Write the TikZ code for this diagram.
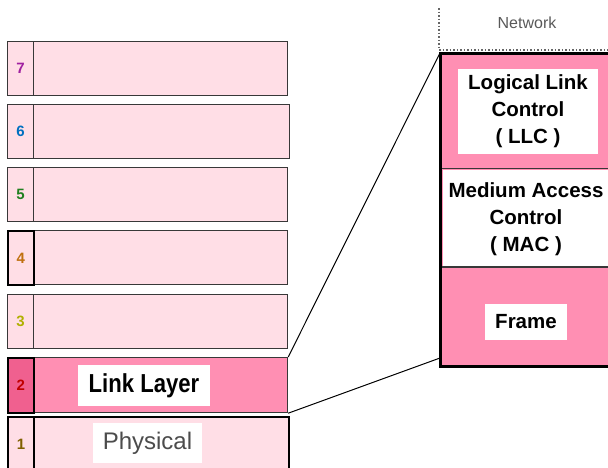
\documentclass[tikz,border=0pt]{standalone}
\usepackage{fontspec}
\setmainfont{Liberation Sans}
\usetikzlibrary{positioning}
\definecolor{lpink}{HTML}{FFDEE6}
\definecolor{mpink}{HTML}{FF8FB3}
\definecolor{dpink}{HTML}{F0608F}
\definecolor{bord}{HTML}{383838}
\definecolor{c7}{HTML}{A020A0}
\definecolor{c6}{HTML}{0070C0}
\definecolor{c5}{HTML}{208020}
\definecolor{c4}{HTML}{C07010}
\definecolor{c3}{HTML}{B0B000}
\definecolor{c2}{HTML}{C00000}
\definecolor{c1}{HTML}{806000}
\begin{document}
\begin{tikzpicture}[x=1pt,y=-1pt,
  numcell/.style={draw=bord,line width=1.2pt,fill=lpink,anchor=north west,minimum width=26pt,minimum height=54pt,inner sep=0pt,font=\fontsize{15}{15}\selectfont\bfseries},
  laycell/.style={draw=bord,line width=1.2pt,fill=lpink,anchor=north west,minimum height=54pt,inner sep=0pt},
  whitebox/.style={fill=white,inner sep=0pt,align=center},
  bigtxt/.style={font=\fontsize{20.5}{27}\selectfont\bfseries}
]
\useasboundingbox (0,0) rectangle (608,467);
% left layers
\node[laycell,minimum width=254pt] (l7) at (33,41) {};
\node[numcell,text=c7] (n7) at (7,41) {7};
\node[laycell,minimum width=256pt] (l6) at (33,104) {};
\node[numcell,text=c6] (n6) at (7,104) {6};
\node[laycell,minimum width=254pt] (l5) at (33,167) {};
\node[numcell,text=c5] (n5) at (7,167) {5};
\node[laycell,minimum width=254pt] (l4) at (33,230) {};
\node[numcell,text=c4,draw=black,line width=1.8pt] (n4) at (7,230) {4};
\node[laycell,minimum width=254pt] (l3) at (33,294) {};
\node[numcell,text=c3] (n3) at (7,294) {3};
\node[laycell,minimum width=254pt,minimum height=55pt,fill=mpink] (l2) at (33,357) {};
\node[numcell,text=c2,fill=dpink,minimum height=55pt,draw=black,line width=1.6pt] (n2) at (7,357) {2};
\node[laycell,minimum width=255pt,minimum height=70pt,draw=black,line width=2.2pt] (l1) at (33,416) {};
\node[numcell,text=c1,minimum height=54pt,draw=black,line width=2.2pt] (n1) at (7,416) {1};
\draw[black,line width=2.2pt] (n1.south west) -- ++(0,20);
\node[whitebox,minimum width=132pt,minimum height=41pt] (ll) at (144,385.5) {\fontsize{26}{26}\selectfont\bfseries\scalebox{0.85}[1]{Link Layer}};
\node[whitebox,minimum width=109pt,minimum height=40pt,text=black!70] (ph) at (147.5,443) {\fontsize{24}{24}\selectfont Physical};
% right box
\node[text=black!65,font=\fontsize{16}{16}\selectfont] (net) at (527,23) {Network};
\coordinate (d0) at (439,8);
\coordinate (d1) at (439,50);
\coordinate (d2) at (640,50);
\draw[black!60,dotted,line width=1.5pt] (d0) -- (d1) -- (d2);
\node[fill=mpink,anchor=north west,minimum width=200pt,minimum height=313pt,inner sep=0pt] (rb) at (440,53) {};
\node[whitebox,anchor=north west,minimum width=200pt,minimum height=97pt] (macbg) at (443,170) {};
\coordinate (s1) at (441,168);
\coordinate (s1e) at (640,168);
\coordinate (s2) at (441,267);
\coordinate (s2e) at (640,267);
\draw[bord,line width=1pt] (s1) -- (s1e);
\draw[bord,line width=1.2pt] (s2) -- (s2e);
\draw[black,line width=3pt] (rb.north east) -- (rb.north west) -- (rb.south west) -- (rb.south east);
\node[whitebox,minimum width=140pt,minimum height=85pt,bigtxt] (llc) at (528,111.5) {Logical Link\\Control\\( LLC )};
\node[whitebox,bigtxt,fill=none] (mac) at (526,219.5) {Medium Access\\Control\\( MAC )};
\node[whitebox,minimum width=82pt,minimum height=36pt,bigtxt] (fr) at (526,322) {Frame};
% connectors
\coordinate (e2) at (440,358);
\draw[black,line width=1pt] (l2.north east) -- (rb.north west);
\draw[black,line width=1pt] (l2.south east) -- (e2);
\end{tikzpicture}
\end{document}
